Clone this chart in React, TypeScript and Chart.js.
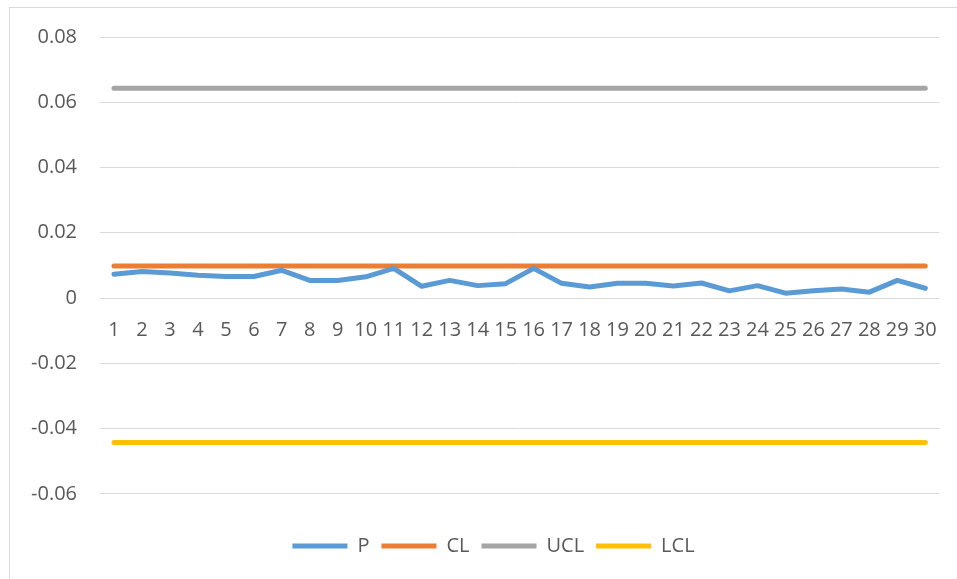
import React, { useEffect, useRef } from "react";
import { Chart, registerables } from "chart.js";

Chart.register(...registerables);

const categories = Array.from({ length: 30 }, (_, i) => String(i + 1));
const pValues = [
  0.0073, 0.0081, 0.0077, 0.007, 0.0066, 0.0066, 0.0085, 0.0054, 0.0054, 0.0065,
  0.0091, 0.0036, 0.0054, 0.0038, 0.0044, 0.0091, 0.0045, 0.0034, 0.0045, 0.0045,
  0.0037, 0.0046, 0.0022, 0.0038, 0.0015, 0.0022, 0.0028, 0.0018, 0.0054, 0.003,
];
const clValue = 0.0098;
const uclValue = 0.0643;
const lclValue = -0.0443;
const clValues = categories.map(() => clValue);
const uclValues = categories.map(() => uclValue);
const lclValues = categories.map(() => lclValue);
const seriesNames = ["P", "CL", "UCL", "LCL"];
const seriesColors = ["#5B9BD5", "#ED7D31", "#A5A5A5", "#FFC000"];
const yMin = -0.06;
const yMax = 0.08;
const yStep = 0.02;

const FONT = "'Open Sans', sans-serif";

export default function App() {
  const ref = useRef<HTMLCanvasElement | null>(null);

  useEffect(() => {
    if (!ref.current) return;
    const series = [pValues, clValues, uclValues, lclValues];
    const chart = new Chart(ref.current, {
      type: "line",
      data: {
        labels: categories,
        datasets: series.map((d, i) => ({
          label: seriesNames[i],
          data: d,
          borderColor: seriesColors[i],
          backgroundColor: seriesColors[i],
          borderWidth: 5,
          pointRadius: 0,
          tension: 0,
          borderCapStyle: "round",
          borderJoinStyle: "round",
          fill: false,
          yAxisID: "y",
        })),
      },
      options: {
        animation: false,
        responsive: false,
        maintainAspectRatio: false,
        layout: { padding: { top: 37, right: 0, left: 30, bottom: 13 } },
        plugins: {
          tooltip: { enabled: false },
          legend: {
            position: "bottom",
            title: {
              display: true,
              text: "",
              font: { size: 1 },
              padding: { top: 29, bottom: 0 },
            },
            labels: {
              boxWidth: 55,
              boxHeight: 5,
              padding: 12,
              color: "#595959",
              font: { family: FONT, size: 20 },
              useBorderRadius: true,
              borderRadius: 2.5,
              generateLabels: () =>
                seriesNames.map((n, i) => ({
                  text: n,
                  fillStyle: seriesColors[i],
                  strokeStyle: seriesColors[i],
                  lineWidth: 0,
                  hidden: false,
                  datasetIndex: i,
                  fontColor: "#595959",
                })),
            },
          },
        },
        scales: {
          x: {
            position: { y: 0 } as any,
            offset: true,
            grid: { display: false, drawTicks: false, offset: true },
            border: { display: false },
            ticks: {
              autoSkip: false,
              maxRotation: 0,
              minRotation: 0,
              padding: 20,
              color: "#595959",
              font: { family: FONT, size: 20 },
            },
          },
          y: {
            min: yMin,
            max: yMax,
            afterFit: (s: any) => {
              s.width = 70;
            },
            grid: { color: "#D9D9D9", lineWidth: 1, drawTicks: false },
            border: { display: false },
            ticks: {
              stepSize: yStep,
              padding: 23,
              color: "#595959",
              font: { family: FONT, size: 20 },
              callback: (v: any) => {
                const n = Number(v);
                if (Math.abs(n) < 1e-9) return "0";
                return n.toFixed(2);
              },
            },
          },
          yRight: {
            position: "right",
            min: yMin,
            max: yMax,
            display: true,
            afterFit: (s: any) => {
              s.width = 17;
            },
            grid: { display: false, drawTicks: false },
            border: { display: false },
            ticks: { display: false },
          },
        },
      },
    });
    return () => chart.destroy();
  }, []);

  return (
    <div style={{ position: "fixed", left: 0, top: 0, width: 957, height: 579, background: "#fff", overflow: "hidden" }}>
      <div
        style={{
          position: "absolute",
          left: 9,
          top: 7,
          width: 1000,
          height: 1000,
          border: "1px solid #D9D9D9",
          boxSizing: "border-box",
        }}
      />
      <canvas ref={ref} width={957} height={579} style={{ position: "absolute", left: 0, top: 0, width: 957, height: 579 }} />
    </div>
  );
}
